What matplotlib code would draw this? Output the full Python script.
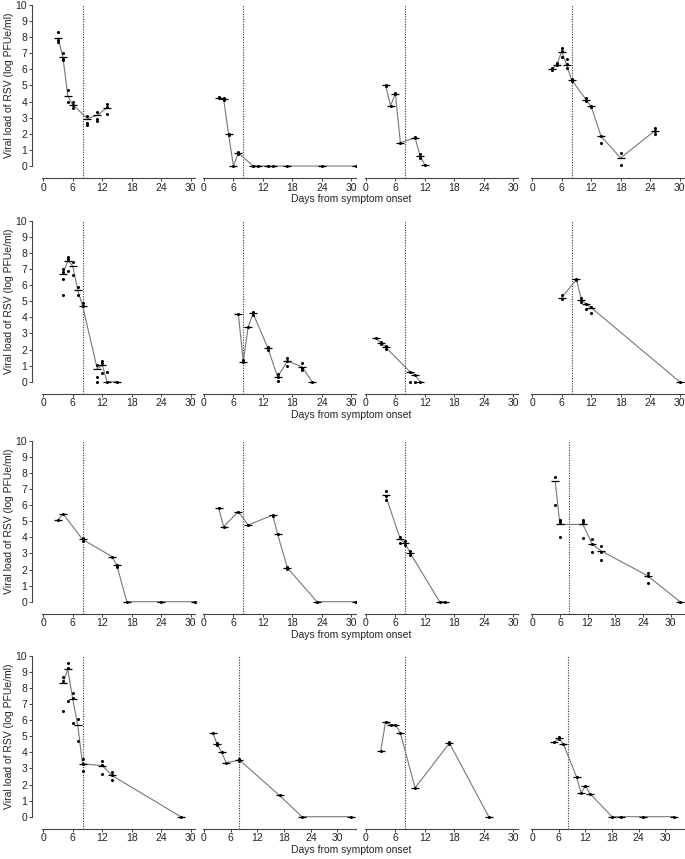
import matplotlib.pyplot as plt

plt.rcParams['font.family'] = ['Liberation Sans', 'DejaVu Sans']

# --- row 1 ---
r1c1_days = [3, 4, 5, 6, 9, 11, 13]
r1c1_mean = [7.95, 6.75, 4.35, 3.8, 2.95, 3.15, 3.62]
r1c1_reps = [[8.3, 7.8, 7.7], [7.0, 6.65, 6.6], [4.7, 3.95], [3.95, 3.8, 3.6],
             [3.1, 2.7, 2.55], [3.35, 2.9, 2.8], [3.85, 3.65, 3.25]]

r1c2_days = [3, 4, 5, 6, 7, 10, 11, 13, 14, 17, 24, 31]
r1c2_mean = [4.25, 4.18, 1.98, 0, 0.82, 0, 0, 0, 0, 0, 0, 0]
r1c2_reps = [[4.28, 4.22], [4.2, 4.12], [2.0, 1.92], [0], [0.88, 0.76],
             [0], [0], [0], [0], [0], [0], [0]]

r1c3_days = [4, 5, 6, 7, 10, 11, 12]
r1c3_mean = [5.0, 3.75, 4.5, 1.45, 1.75, 0.65, 0.05]
r1c3_reps = [[5.05, 4.95], [3.75], [4.55, 4.45], [1.45], [1.78, 1.72],
             [0.72, 0.52], [0.05]]

r1c4_days = [4, 5, 6, 7, 8, 11, 12, 14, 18, 25]
r1c4_mean = [6.0, 6.3, 7.1, 6.3, 5.35, 4.1, 3.7, 1.85, 0.5, 2.2]
r1c4_reps = [[6.08, 5.94], [6.38, 6.25], [7.35, 7.15, 6.8], [6.65, 6.35, 6.1],
             [5.4, 5.3], [4.2, 4.05], [3.72, 3.66], [1.88, 1.4], [0.82, 0.04],
             [2.37, 2.2, 1.96]]

# --- row 2 ---
r2c1_days = [4, 5, 6, 7, 8, 11, 12, 13, 15]
r2c1_mean = [6.69, 7.52, 7.2, 5.69, 4.72, 0.79, 1.04, 0.0, 0.0]
r2c1_reps = [[6.98, 6.8, 6.38, 5.38], [7.76, 7.6, 6.87], [7.45, 6.63],
             [5.86, 5.4], [4.87, 4.7], [1.04, 0.27, 0.0], [1.28, 1.14, 0.56],
             [0.62, 0.0], [0.0]]

r2c2_days = [7, 8, 9, 10, 13, 15, 17, 20, 22]
r2c2_mean = [4.2, 1.25, 3.4, 4.25, 2.1, 0.3, 1.28, 0.92, 0.0]
r2c2_reps = [[4.2], [1.32, 1.2], [3.4], [4.3, 4.12], [2.15, 1.95],
             [0.45, 0.3, 0.05], [1.5, 1.3, 1.0], [1.15, 0.85, 0.7], [0.0]]

r2c3_days = [2, 3, 4, 9, 10, 11]
r2c3_mean = [2.7, 2.42, 2.15, 0.6, 0.42, 0.0]
r2c3_reps = [[2.7], [2.45, 2.35], [2.2, 2.05], [0.6, 0.0], [0.42, 0.0], [0.0]]

r2c4_days = [6, 9, 10, 11, 12, 30]
r2c4_mean = [5.22, 6.35, 5.1, 4.8, 4.6, 0.0]
r2c4_reps = [[5.38, 5.16], [6.38, 6.3], [5.18, 4.97], [4.84, 4.53],
             [4.62, 4.24], [0.0]]

# --- row 3 ---
r3c1_days = [3, 4, 8, 14, 15, 17, 24, 31]
r3c1_mean = [5.07, 5.47, 3.87, 2.8, 2.25, 0, 0, 0]
r3c1_reps = [[5.07], [5.47], [3.93, 3.75], [2.8], [2.3, 2.17], [0], [0], [0]]

r3c2_days = [3, 4, 7, 9, 14, 15, 17, 23, 31]
r3c2_mean = [5.8, 4.66, 5.59, 4.76, 5.38, 4.18, 2.1, 0, 0]
r3c2_reps = [[5.8], [4.66], [5.59], [4.76], [5.4, 5.33], [4.18], [2.17, 2.03],
             [0], [0]]

r3c3_days = [4, 7, 8, 9, 15, 16]
r3c3_mean = [6.6, 3.87, 3.62, 3.02, 0, 0]
r3c3_reps = [[6.89, 6.58, 6.31], [3.99, 3.66], [3.77, 3.52], [3.15, 2.9],
             [0], [0]]

r3c4_days = [5, 6, 11, 13, 15, 25, 32]
r3c4_mean = [7.47, 4.8, 4.8, 3.58, 3.15, 1.61, 0]
r3c4_reps = [[7.76, 6.0], [5.07, 4.97, 4.04], [5.07, 4.97, 3.93],
             [3.87, 3.58, 3.1], [3.46, 3.1, 2.59], [1.8, 1.61, 1.18], [0]]

# --- row 4 ---
r4c1_days = [4, 5, 6, 7, 8, 12, 14, 28]
r4c1_mean = [8.33, 9.15, 7.3, 5.71, 3.28, 3.18, 2.56, 0]
r4c1_reps = [[8.7, 8.45, 6.58], [9.57, 9.22, 7.2], [7.67, 7.36, 5.81],
             [6.08, 4.68], [3.61, 3.3, 2.82], [3.44, 3.24, 2.68],
             [2.76, 2.62, 2.27], [0]]

r4c2_days = [2, 3, 4, 5, 8, 17, 22, 33]
r4c2_mean = [5.2, 4.5, 4.0, 3.35, 3.52, 1.32, 0, 0]
r4c2_reps = [[5.2], [4.55, 4.45], [4.0], [3.35], [3.58, 3.45], [1.32], [0], [0]]

r4c3_days = [3, 4, 5, 6, 7, 10, 17, 25]
r4c3_mean = [4.08, 5.9, 5.72, 5.72, 5.2, 1.79, 4.57, 0]
r4c3_reps = [[4.08], [5.9], [5.72], [5.72], [5.2], [1.79], [4.62, 4.52], [0]]

r4c4_days = [5, 6, 7, 10, 11, 12, 13, 18, 20, 25, 32]
r4c4_mean = [4.62, 4.87, 4.54, 2.47, 1.48, 1.9, 1.44, 0, 0, 0, 0]
r4c4_reps = [[4.62], [4.92, 4.82], [4.54], [2.47], [1.48], [1.9], [1.44],
             [0], [0], [0], [0]]

panels = [
    [(r1c1_days, r1c1_mean, r1c1_reps), (r1c2_days, r1c2_mean, r1c2_reps),
     (r1c3_days, r1c3_mean, r1c3_reps), (r1c4_days, r1c4_mean, r1c4_reps)],
    [(r2c1_days, r2c1_mean, r2c1_reps), (r2c2_days, r2c2_mean, r2c2_reps),
     (r2c3_days, r2c3_mean, r2c3_reps), (r2c4_days, r2c4_mean, r2c4_reps)],
    [(r3c1_days, r3c1_mean, r3c1_reps), (r3c2_days, r3c2_mean, r3c2_reps),
     (r3c3_days, r3c3_mean, r3c3_reps), (r3c4_days, r3c4_mean, r3c4_reps)],
    [(r4c1_days, r4c1_mean, r4c1_reps), (r4c2_days, r4c2_mean, r4c2_reps),
     (r4c3_days, r4c3_mean, r4c3_reps), (r4c4_days, r4c4_mean, r4c4_reps)],
]
x_max = [[31, 31, 31, 31], [31, 31, 31, 31], [31, 31, 31, 33], [31, 34.2, 31, 34.3]]

W, H = 685, 859
fig = plt.figure(figsize=(W / 100, H / 100), dpi=100)

col_x0 = [43.3, 204, 366, 532.3]     # pixel position of day 0
row_y10 = [5, 220.7, 440.7, 655.7]   # pixel position of y = 10
ppu = 16.1
ax_w = 153.7
ax_h = 11.05 * ppu
txt = '#222222'

for i in range(4):
    for j in range(4):
        days, mean, reps = panels[i][j]
        left = col_x0[j] - 1.5
        top = row_y10[i] - 0.3 * ppu
        ax = fig.add_axes([left / W, 1 - (top + ax_h) / H, ax_w / W, ax_h / H])
        ax.set_xlim(-0.3, x_max[i][j])
        ax.set_ylim(-0.75, 10.3)

        ax.plot([8, 8], [-0.75, 10], ls=(0, (1, 1.3)), color='#333333', lw=0.8)
        ax.plot(days, mean, color='#777777', lw=0.8, zorder=2)
        ax.plot(days, mean, ls='none', marker='_', ms=6, mew=0.9,
                color='black', zorder=3)
        for d, vals in zip(days, reps):
            ax.plot([d] * len(vals), vals, ls='none', marker='o', ms=2.2,
                    color='black', mew=0, zorder=4)

        for s in ['top', 'right']:
            ax.spines[s].set_visible(False)
        ax.spines['bottom'].set_linewidth(0.8)
        ax.spines['bottom'].set_color('#444444')
        ax.set_xticks([0, 6, 12, 18, 24, 30])
        ax.tick_params(axis='x', length=2.2, width=0.7, pad=1, labelsize=7.5,
                       colors='#444444', labelcolor=txt)
        if j == 0:
            ax.spines['left'].set_position(('outward', 7.2))
            ax.spines['left'].set_bounds(0, 10)
            ax.spines['left'].set_linewidth(0.8)
            ax.spines['left'].set_color('#444444')
            ax.set_yticks(range(11))
            ax.tick_params(axis='y', length=2.2, width=0.7, pad=1.2,
                           labelsize=7.5, colors='#444444', labelcolor=txt)
            fig.text(9 / W, 1 - (row_y10[i] + 5 * ppu) / H,
                     'Viral load of RSV (log PFUe/ml)', rotation=90,
                     ha='center', va='center', fontsize=7.5, color=txt)
        else:
            ax.spines['left'].set_visible(False)
            ax.set_yticks([])
        ax.patch.set_visible(False)

    spine_y = row_y10[i] - 0.3 * ppu + ax_h
    fig.text(351 / W, 1 - (spine_y + 21) / H, 'Days from symptom onset',
             ha='center', va='center', fontsize=7.5, color=txt)

fig.savefig('out.png', dpi=100)
